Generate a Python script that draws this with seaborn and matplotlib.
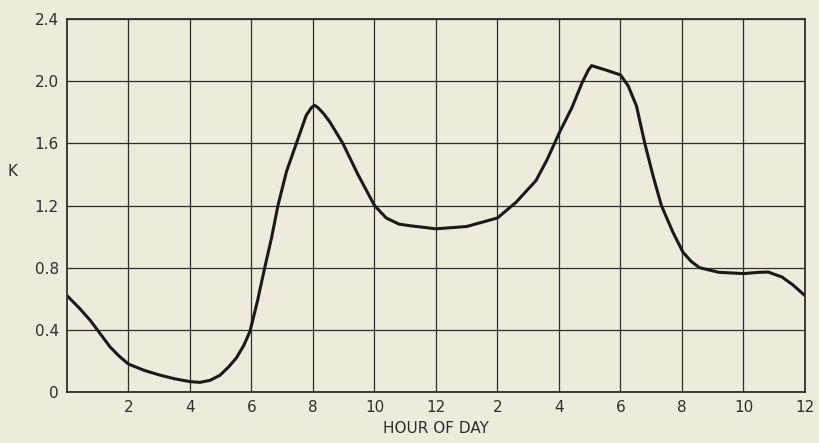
import matplotlib
matplotlib.use("Agg")
import matplotlib.pyplot as plt
import seaborn as sns
import pandas as pd

# hours after midnight (0-24) and K
hours = [0.0, 0.4, 0.76, 1.1, 1.4, 1.7, 2.0, 2.5, 3.0, 3.5, 4.0, 4.32, 4.65, 4.97, 5.25,
         5.51, 5.75, 5.95, 6.2, 6.43, 6.65, 6.86, 7.14, 7.46, 7.78, 7.95, 8.05, 8.16,
         8.35, 8.54, 8.97, 9.46, 10.0, 10.38, 10.8, 11.15, 12.0, 13.0, 14.0, 14.6,
         15.25, 15.6, 16.04, 16.42, 16.74, 16.95, 17.06, 17.55, 18.0, 18.25, 18.52,
         18.79, 19.06, 19.33, 19.7, 20.03, 20.3, 20.57, 21.2, 22.0, 22.5, 22.8, 23.25,
         23.6, 24.0]
k_values = [0.62, 0.54, 0.46, 0.37, 0.29, 0.23, 0.18, 0.14, 0.11, 0.085, 0.067, 0.062,
            0.075, 0.107, 0.16, 0.22, 0.3, 0.39, 0.59, 0.8, 0.99, 1.2, 1.42, 1.6, 1.78,
            1.83, 1.845, 1.83, 1.79, 1.74, 1.6, 1.4, 1.2, 1.12, 1.08, 1.07, 1.05, 1.065,
            1.12, 1.22, 1.36, 1.49, 1.68, 1.83, 1.985, 2.07, 2.1, 2.07, 2.04, 1.97, 1.84,
            1.6, 1.39, 1.2, 1.03, 0.9, 0.84, 0.8, 0.77, 0.762, 0.77, 0.772, 0.74, 0.69,
            0.62]

x_ticks = [2, 4, 6, 8, 10, 12, 14, 16, 18, 20, 22, 24]
x_labels = ["2", "4", "6", "8", "10", "12", "2", "4", "6", "8", "10", "12"]
y_ticks = [0, 0.4, 0.8, 1.2, 1.6, 2.0, 2.4]
y_labels = ["0", "0.4", "0.8", "1.2", "1.6", "2.0", "2.4"]

df = pd.DataFrame({"hour": hours, "K": k_values})

sns.set_style("white")
plt.rcParams["font.family"] = ["DejaVu Sans"]
bg = "#ecebdc"
ink = "#2e2e2a"

fig = plt.figure(figsize=(8.19, 4.43), dpi=100, facecolor=bg)
ax = fig.add_axes([0.0818, 0.1151, 0.9011, 0.842])
ax.set_facecolor(bg)

sns.lineplot(data=df, x="hour", y="K", ax=ax, color="#1a1a18", linewidth=2.2)
ax.lines[0].set_solid_joinstyle("round")

ax.set_xlim(0, 24)
ax.set_ylim(0, 2.4)
ax.set_xticks(x_ticks)
ax.set_xticklabels(x_labels)
ax.set_yticks(y_ticks)
ax.set_yticklabels(y_labels)
ax.grid(True, color=ink, linewidth=0.9)
ax.tick_params(length=0, labelsize=11, colors=ink, pad=6)
for s in ax.spines.values():
    s.set_color(ink)
    s.set_linewidth(1.3)

ax.set_xlabel("HOUR OF DAY", fontsize=11, color=ink, labelpad=4)
ax.set_ylabel("K", fontsize=11, color=ink, rotation=0)
ax.yaxis.set_label_coords(-0.074, 0.57)

fig.savefig("out.png", dpi=100, facecolor=bg)
